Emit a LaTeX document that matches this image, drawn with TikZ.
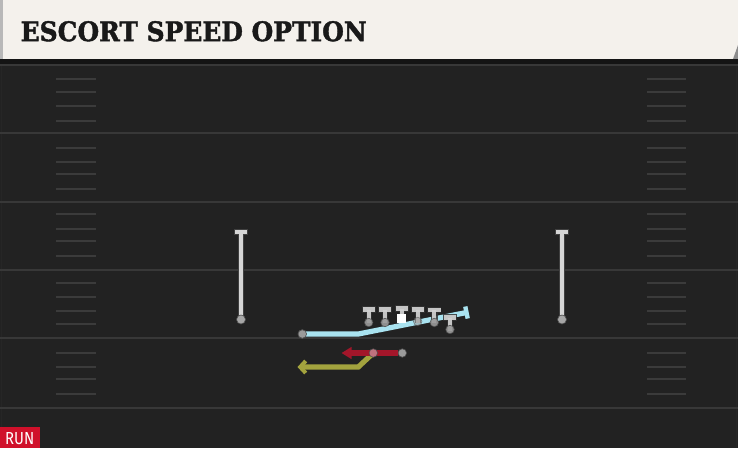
\documentclass[tikz,border=0pt]{standalone}
\usepackage{fontspec}
\usepackage{graphicx}
\usetikzlibrary{arrows.meta,calc}
\newfontface\titlefont[FakeBold=1.6]{DejaVu Serif Bold}
\newfontfamily\runfont{Fira Sans}
\definecolor{cream}{HTML}{F4F1EC}
\definecolor{fieldbg}{HTML}{222222}
\definecolor{yardline}{HTML}{383838}
\definecolor{hashc}{HTML}{3B3B3B}
\definecolor{tgray}{HTML}{D2D2D2}
\definecolor{dotgray}{HTML}{9A9A9A}
\definecolor{bluer}{HTML}{A9E3F0}
\definecolor{redr}{HTML}{A3162A}
\definecolor{olive}{HTML}{A3A33E}
\definecolor{runred}{HTML}{D0102A}
\definecolor{pinkdot}{HTML}{C47C88}
\tikzset{
  yard/.style={line width=2pt, draw=yardline},
  hashm/.style={line width=1.6pt, draw=hashc},
  dotnode/.style={circle, fill=dotgray, draw=black!70, line width=0.6pt, minimum size=8.5pt, inner sep=0pt},
  route/.style={line width=5.2pt, line cap=butt, line join=miter},
  pics/player/.style={code={
    \draw[line width=6.4pt, black!80, opacity=0.85] (-7,0)--(7,0) (0,0)--(0,13);
    \draw[line width=4.8pt, tgray, opacity=0.92] (-6.2,0)--(6.2,0);
    \draw[line width=4.2pt, tgray, opacity=0.92] (0,0)--(0,13);
  }},
  pics/goalpost/.style={code={
    \draw[line width=5.8pt, black!75] (0,0)--(0,86) (-6.8,0)--(6.8,0);
    \draw[line width=4.2pt, tgray!90] (0,0)--(0,86) (-6,0)--(6,0);
  }}
}
\begin{document}
\begin{tikzpicture}[x=1pt,y=-1pt]
\useasboundingbox (0,0) rectangle (738,448);
% field
\fill[fieldbg] (0,59) rectangle (738,448);
\draw[line width=1pt, black!60!fieldbg!90!white] (1.5,64) -- (1.5,448);
\draw[line width=1pt, black!60!fieldbg!90!white] (736.5,64) -- (736.5,448);
% yard lines
\foreach \y in {65,133,202,270,338,408} \draw[yard] (0,\y) -- (738,\y);
% hash marks
\foreach \y in {79,92,106,121,148,162,174,189,214,229,241,256,283,297,311,324,353,367,379,394} {
  \draw[hashm] (56,\y) -- (96,\y);
  \draw[hashm] (647,\y) -- (686,\y);
}
% header
\fill[cream] (0,0) -- (738,0) -- (738,45) -- (733,59) -- (0,59) -- cycle;
\fill[black!45] (733,59) -- (738,45) -- (738,59) -- cycle;
\fill[black!28] (0,0) rectangle (3.2,59);
\fill[black!92] (0,59) rectangle (738,64);
\node[anchor=south west, inner sep=0pt, text=black!90] (title) at (20.5,41.7)
  {\resizebox{346pt}{20pt}{\titlefont ESCORT SPEED OPTION}};
% goal posts
\pic at (241,232) {goalpost};
\pic at (562,232) {goalpost};
\node[dotnode, fill=black!35, minimum size=9pt] (gpl) at (241,319.5) {};
\node[dotnode, fill=black!35, minimum size=9pt] (gpr) at (562,319.5) {};
% blue route
\node[dotnode] (qb) at (302.3,334) {};
\coordinate (b1) at (358.3,334);
\coordinate (b2) at (466.5,312.5);
\draw[route, bluer] (qb.center) -- (b1) -- (b2);
\draw[line width=4.4pt, bluer] ($(b2)+(-1.2,-6)$) -- ($(b2)+(1.2,6)$);
\node[dotnode] (qb2) at (qb) {};
% linemen
\pic at (368.7,309.5) {player};
\pic at (385,309.5) {player};
\pic at (401.7,308.5) {player};
\pic at (417.7,309.5) {player};
\pic at (434.3,310) {player};
\pic at (450,317.5) {player};
\node[dotnode, opacity=0.9] (p1) at (368.7,322.5) {};
\node[dotnode, opacity=0.9] (p2) at (385,322.5) {};
\node[rectangle, fill=white, minimum size=8.5pt, inner sep=0pt] (ctr) at (401.7,318.5) {};
\node[dotnode, opacity=0.6] (p4) at (417.7,321.5) {};
\node[dotnode, opacity=0.9] (p5) at (434.3,322.5) {};
\node[dotnode, opacity=0.9] (p6) at (450,329.5) {};
% backs
\node[dotnode] (rb) at (402.3,353) {};
\coordinate (rtip) at (341.5,353);
\coordinate (fbc) at (373.3,353);
\coordinate (y1) at (358.3,367);
\coordinate (ytip) at (297.5,367);
\draw[route, olive, -{Straight Barb[length=5.5pt,width=12pt,line width=4pt]}] (fbc) -- (y1) -- (ytip);
\draw[route, redr, -{Triangle[length=10pt,width=11.5pt]}] (rb.west) -- (rtip);
\node[dotnode, fill=pinkdot, opacity=0.9] (fb) at (fbc) {};
% RUN tag
\fill[runred] (0,427) rectangle (40,448);
\node[anchor=south west, inner sep=0pt, text=white] (run) at (5,445)
  {\resizebox{29pt}{12pt}{\runfont RUN}};
\end{tikzpicture}
\end{document}
